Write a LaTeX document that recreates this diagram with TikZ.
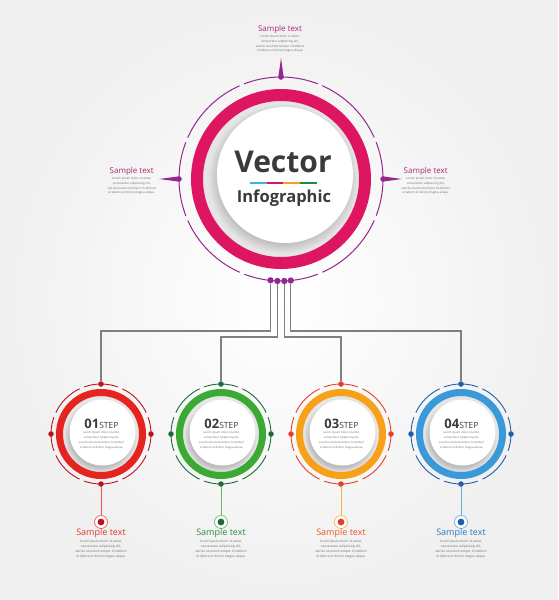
\documentclass[tikz,border=0pt]{standalone}
\usepackage{fontspec}
\setmainfont{Open Sans}
\usetikzlibrary{shadows,backgrounds,positioning}

\definecolor{hubring}{HTML}{DE1560}
\definecolor{hubline}{HTML}{93278F}
\definecolor{hubtext}{HTML}{A52A6E}
\definecolor{ink}{HTML}{3A3A3A}
\definecolor{loremgray}{HTML}{6A6A6A}
\definecolor{wiregray}{HTML}{7F7F7F}
\definecolor{barcyan}{HTML}{3BB3E3}
\definecolor{barpink}{HTML}{D6185E}
\definecolor{barorange}{HTML}{F5A01A}
\definecolor{bargreen}{HTML}{1E8A3C}
\definecolor{redring}{HTML}{E52420}
\definecolor{reddot}{HTML}{B8141D}
\definecolor{redlab}{HTML}{E4322B}
\definecolor{greenring}{HTML}{3AAA35}
\definecolor{greendot}{HTML}{1D6B36}
\definecolor{greenlab}{HTML}{2E8B3E}
\definecolor{orangering}{HTML}{F7A11A}
\definecolor{orangedot}{HTML}{E3402B}
\definecolor{orangelab}{HTML}{E8562A}
\definecolor{bluering}{HTML}{3A9AD9}
\definecolor{bluedot}{HTML}{1F5FAA}
\definecolor{bluelab}{HTML}{2A7AC0}

\tikzset{
  knob/.style={circle, inner sep=0pt, minimum size=5.5pt},
  wire/.style={draw=wiregray, line width=1.3pt},
  lorem/.style={align=center, text=loremgray, font=\fontsize{3}{4.7}\selectfont, inner sep=0pt},
  title/.style={font=\fontsize{8}{9}\selectfont, inner sep=0pt},
  disc/.style={circle, fill=white, inner sep=0pt,
    circular drop shadow={shadow xshift=-2pt, shadow yshift=-3pt, opacity=0.4}},
}

\newcommand{\loremtext}{Lorem ipsum dolor sit amet,\\consectetur adipisicing elit,\\sed do eiusmod tempor incididunt\\ut labore et dolore magna aliqua.}

\begin{document}
\begin{tikzpicture}[x=1pt,y=-1pt]
\useasboundingbox (0,0) rectangle (558,600);
\begin{scope}[on background layer]
\shade[inner color=white, outer color=black!6] (0,0) rectangle (558,600);
\end{scope}

% central circle
\coordinate (hub) at (281,179);
\fill[black!10] (hub) circle[radius=78];
\node[disc, minimum size=136pt] (hubdisc) at (285,175) {};
\draw[hubring, line width=12pt] (hub) circle[radius=84];
\draw[hubline, line width=1pt, dash pattern=on 75.1pt off 5pt, dash phase=37.6pt] (hub) circle[radius=102];

\node[knob, fill=hubline] (htop) at (281,77) {};
\node[knob, fill=hubline] (hleft) at (179,179) {};
\node[knob, fill=hubline] (hright) at (383,179) {};
\foreach \n/\x/\y in {1/270.5/280.3, 2/277.4/281, 3/284.3/281, 4/290.8/280.5}
  \node[knob, fill=hubline, minimum size=6.3pt] (h\n) at (\x,\y) {};

% pointers
\fill[hubline] ([xshift=-2.6pt]htop.center) -- ([yshift=19pt]htop.center) -- ([xshift=2.6pt]htop.center) -- cycle;
\fill[hubline] ([yshift=2.6pt]hleft.center) -- ([xshift=-20pt]hleft.center) -- ([yshift=-2.6pt]hleft.center) -- cycle;
\fill[hubline] ([yshift=2.6pt]hright.center) -- ([xshift=19pt]hright.center) -- ([yshift=-2.6pt]hright.center) -- cycle;

\node[title, text=hubtext] (ttop) at (280,29) {Sample text};
\node[lorem, below=2pt of ttop] (ltop) {\loremtext};
\node[title, text=hubtext] (tleft) at (131.7,171) {Sample text};
\node[lorem, below=2pt of tleft] (lleft) {\loremtext};
\node[title, text=hubtext] (tright) at (425.7,171) {Sample text};
\node[lorem, below=2pt of tright] (lright) {\loremtext};

\node[inner sep=0pt, text=ink, font=\fontsize{30}{32}\selectfont\bfseries] (vec) at (283,161.5) {Vector};
\foreach \c [count=\k] in {barcyan,barpink,barorange,bargreen}
  \draw[\c, line width=2.2pt] ({250+(\k-1)*16.7},183) -- ++(16.7,0);
\node[inner sep=0pt, text=ink, font=\fontsize{16.5}{18}\selectfont\bfseries] (info) at (284,198) {Infographic};

% steps
\foreach \n/\x/\ring/\tone/\lab in {1/101/redring/reddot/redlab, 2/221/greenring/greendot/greenlab,
    3/341/orangering/orangedot/orangelab, 4/461/bluering/bluedot/bluelab} {
  \coordinate (s\n) at (\x,434);
  \fill[black!10] (s\n) circle[radius=38];
  \node[disc, minimum size=66pt] (w\n) at (\x+1.5,432.5) {};
  \draw[\ring, line width=7pt] (s\n) circle[radius=41.5];
  \draw[\tone, line width=0.9pt, dash pattern=on 34.27pt off 5pt, dash phase=17.2pt] (s\n) circle[radius=50];
  \node[knob, fill=\tone] (t\n) at (\x,384) {};
  \node[knob, fill=\tone] (l\n) at (\x-50,434) {};
  \node[knob, fill=\tone] (r\n) at (\x+50,434) {};
  \node[knob, fill=\tone] (b\n) at (\x,484) {};
  \node[inner sep=0pt, text=ink] (num\n) at (\x+0.5,424)
    {\fontsize{13}{14}\selectfont\bfseries 0\n\fontsize{8.5}{10}\selectfont\mdseries STEP};
  \node[lorem, font=\fontsize{2.8}{4.9}\selectfont, below=2pt of num\n] (in\n) {\loremtext};
  \node[circle, draw=\ring!70, fill=white, line width=0.8pt, minimum size=13pt, inner sep=0pt] (g\n) at (\x,522) {};
  \fill[\tone] (g\n) circle[radius=3.4];
  \draw[\ring!80, line width=0.9pt] (b\n) -- (g\n);
  \node[title, text=\lab, font=\fontsize{9}{10}\selectfont] (st\n) at (\x,533.5) {Sample text};
  \node[lorem, font=\fontsize{3.2}{4.8}\selectfont, below=2pt of st\n] (sl\n) {\loremtext};
}

% connectors
\begin{scope}[on background layer]
\draw[wire] (h1) -- (h1 |- 0,331) -| (t1);
\draw[wire] (h2) -- (h2 |- 0,337) -| (t2);
\draw[wire] (h3) -- (h3 |- 0,337) -| (t3);
\draw[wire] (h4) -- (h4 |- 0,331) -| (t4);
\end{scope}
\end{tikzpicture}
\end{document}
